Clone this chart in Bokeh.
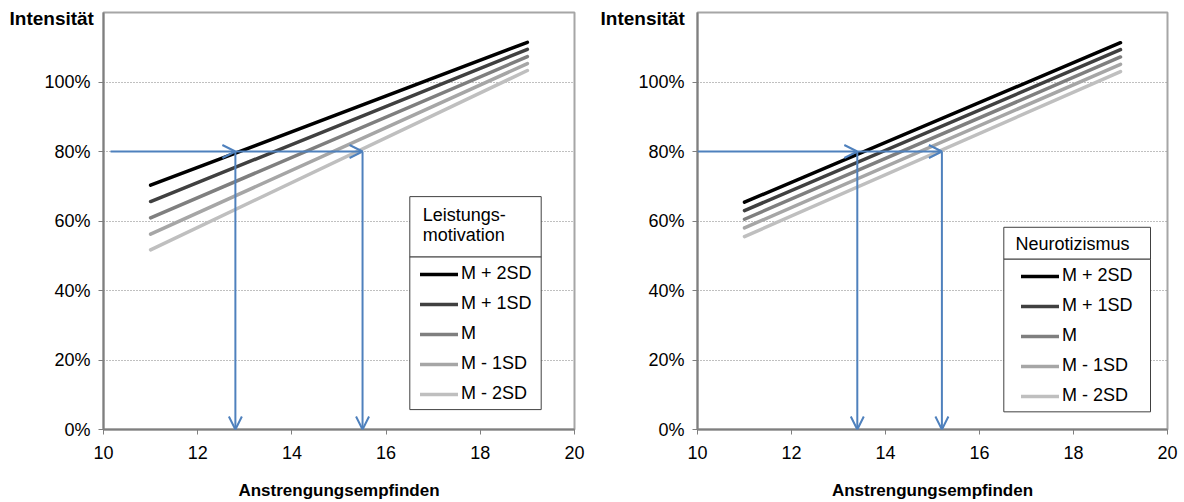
from bokeh.plotting import figure
from bokeh.layouts import row
from bokeh.models import (Range1d, FixedTicker, NumeralTickFormatter, Legend, LegendItem,
                          Label, BoxAnnotation, Arrow, OpenHead, ColumnDataSource)
from bokeh.embed import file_html
from bokeh.resources import INLINE

# ---------------- data ----------------
series_labels = ["M + 2SD", "M + 1SD", "M", "M - 1SD", "M - 2SD"]
x_points = [11, 19]
left_start = [0.703, 0.656, 0.609, 0.562, 0.517]
left_end = [1.114, 1.094, 1.073, 1.053, 1.033]
right_start = [0.654, 0.630, 0.605, 0.580, 0.555]
right_end = [1.113, 1.093, 1.072, 1.051, 1.030]
left_arrow_x = [12.8, 15.5]
right_arrow_x = [13.4, 15.2]
arrow_level = 0.8
left_arrow_from = 10.15
right_arrow_from = 10.0
x_ticks = [10, 12, 14, 16, 18, 20]
y_ticks = [0, 0.2, 0.4, 0.6, 0.8, 1.0]
left_title = ["Leistungs-", "motivation"]
right_title = ["Neurotizismus"]
y_label = "Intensität"
x_label = "Anstrengungsempfinden"

# ---------------- style ----------------
COLORS = ["#000000", "#404040", "#7F7F7F", "#A6A6A6", "#BFBFBF"]
BLUE = "#4F81BD"
FONT = "Liberation Sans"
X_MIN, X_MAX, Y_MIN, Y_MAX = 10, 20, 0, 1.2


def make_panel(starts, ends, arrow_xs, arrow_from, title_lines, geo):
    fl, fr, ft, fb = geo["fl"], geo["fr"], geo["ft"], geo["fb"]

    def dx(px):
        return X_MIN + (px - fl) / (fr - fl) * (X_MAX - X_MIN)

    def dy(py):
        return Y_MIN + (fb - py) / (fb - ft) * (Y_MAX - Y_MIN)

    p = figure(width=geo["w"], height=geo["h"], output_backend="svg", toolbar_location=None,
               x_range=Range1d(X_MIN, X_MAX), y_range=Range1d(Y_MIN, Y_MAX),
               min_border_left=geo["bl"], min_border_right=geo["br"],
               min_border_top=geo["bt"], min_border_bottom=geo["bb"])
    p.background_fill_color = "white"
    p.border_fill_color = "white"
    p.outline_line_color = "#A6A6A6"
    p.outline_line_width = 2

    # "Intensität" as the (left-aligned) title, pulled down next to the frame's top
    p.title.text = y_label
    p.title.align = "left"
    p.title.offset = geo["yl_off"]
    p.title.standoff = -33
    p.title.vertical_align = "bottom"
    p.title.text_font = FONT
    p.title.text_font_size = "19px"
    p.title.text_font_style = "bold"
    p.title.text_color = "#000000"

    p.xgrid.visible = False
    p.ygrid.ticker = FixedTicker(ticks=y_ticks[1:])
    p.ygrid.grid_line_color = "#808080"
    p.ygrid.grid_line_dash = "1 2"
    p.ygrid.grid_line_width = 1

    for ax in (p.xaxis[0], p.yaxis[0]):
        ax.axis_line_color = "#7F7F7F"
        ax.axis_line_width = 2
        ax.major_tick_line_color = "#7F7F7F"
        ax.major_tick_line_width = 1
        ax.major_tick_out = 5
        ax.major_tick_in = 0
        ax.minor_tick_line_color = None
        ax.major_label_text_font = FONT
        ax.major_label_text_font_size = "18px"
        ax.major_label_text_color = "#000000"
    p.xaxis.ticker = FixedTicker(ticks=x_ticks)
    p.yaxis.ticker = FixedTicker(ticks=y_ticks)
    p.yaxis.formatter = NumeralTickFormatter(format="0%")
    p.xaxis.major_label_standoff = 11
    p.yaxis.major_label_standoff = 8
    p.xaxis.axis_label = x_label
    p.xaxis.axis_label_standoff = 19
    p.xaxis.axis_label_text_font = FONT
    p.xaxis.axis_label_text_font_size = "17px"
    p.xaxis.axis_label_text_font_style = "bold"
    p.xaxis.axis_label_text_color = "#000000"

    renderers = []
    for s, e, c in zip(starts, ends, COLORS):
        r = p.line(x=x_points, y=[s, e], line_color=c, line_width=3.5, line_cap="round")
        renderers.append(r)

    # arrows
    xs = [arrow_from, arrow_xs[0], arrow_xs[0], arrow_xs[1]]
    ys = [arrow_level, arrow_level, arrow_level, arrow_level]
    xe = [arrow_xs[0], arrow_xs[1], arrow_xs[0], arrow_xs[1]]
    ye = [arrow_level, arrow_level, Y_MIN, Y_MIN]
    src = ColumnDataSource(dict(x_start=xs, y_start=ys, x_end=xe, y_end=ye))
    p.add_layout(Arrow(end=OpenHead(size=13, line_color=BLUE, line_width=2),
                       x_start="x_start", y_start="y_start", x_end="x_end", y_end="y_end",
                       source=src, line_color=BLUE, line_width=2))

    # legend boxes
    lb = geo["leg"]
    p.add_layout(BoxAnnotation(left=dx(lb["l"]), right=dx(lb["r"]), top=dy(lb["t"]), bottom=dy(lb["m"]),
                               fill_color="white", fill_alpha=1, line_color="#404040", line_width=1,
                               line_alpha=1))
    p.add_layout(BoxAnnotation(left=dx(lb["l"]), right=dx(lb["r"]), top=dy(lb["m"]), bottom=dy(lb["b"]),
                               fill_color="white", fill_alpha=1, line_color="#404040", line_width=1,
                               line_alpha=1))
    for txt, (tx, ty, al) in zip(title_lines, geo["title_pos"]):
        p.add_layout(Label(x=dx(tx), y=dy(ty), text=txt, text_font=FONT, text_font_size="18px",
                           text_align=al, text_baseline="middle", text_color="#000000"))

    legend = Legend(items=[LegendItem(label=lab, renderers=[r]) for lab, r in zip(series_labels, renderers)],
                    location=geo["leg_loc"], orientation="vertical",
                    border_line_alpha=0, background_fill_alpha=0, padding=5, spacing=9, margin=0,
                    glyph_width=38, glyph_height=20, label_height=20, label_standoff=3,
                    label_text_font=FONT, label_text_font_size="18px", label_text_color="#000000")
    p.add_layout(legend)
    return p


geo_left = dict(w=592, h=502, bl=103, br=18, bt=11, bb=72,
                fl=103, fr=574, ft=11, fb=430,
                leg=dict(l=409.3, r=540.7, t=196, m=256.7, b=410),
                title_pos=[(422.3, 214, "left"), (422.3, 235, "left")],
                leg_loc=(312, 20), yl_off=-94)
geo_right = dict(w=592, h=502, bl=105, br=17, bt=12, bb=72,
                 fl=697, fr=1167, ft=12, fb=430,
                 leg=dict(l=1003.3, r=1150, t=227.3, m=259.3, b=412.3),
                 title_pos=[(1072, 244, "center")],
                 leg_loc=(319, 18), yl_off=-97)

p1 = make_panel(left_start, left_end, left_arrow_x, left_arrow_from, left_title, geo_left)
p2 = make_panel(right_start, right_end, right_arrow_x, right_arrow_from, right_title, geo_right)

layout = row(p1, p2, spacing=0)
open("out.html", "w").write(file_html(layout, INLINE))
